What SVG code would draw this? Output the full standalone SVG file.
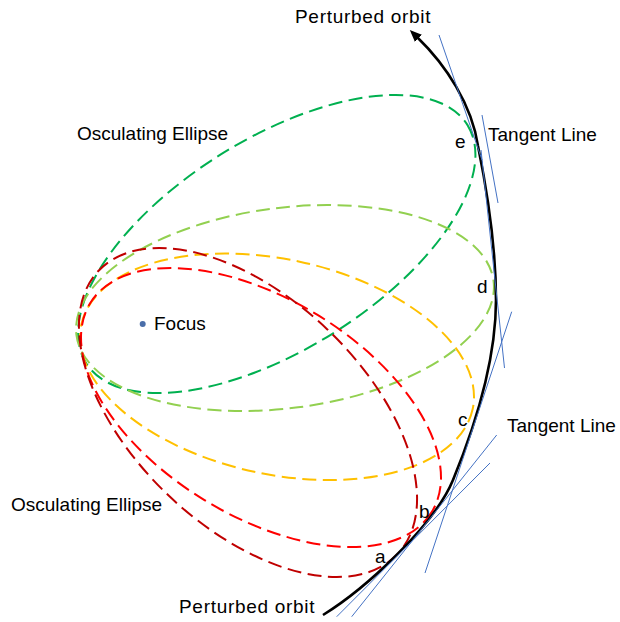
<svg xmlns="http://www.w3.org/2000/svg" width="620" height="622" viewBox="0 0 620 622">
<style>
text{font-family:"Liberation Sans",Arial,sans-serif;font-size:19px;fill:#000}
.osc{fill:none;stroke-width:2;stroke-dasharray:14 6.5}
.tan{stroke:#4472C4;stroke-width:1;fill:none}
.orbit{fill:none;stroke:#000;stroke-width:2.6}
</style>
<defs>
<marker id="arr" markerUnits="userSpaceOnUse" viewBox="0 0 12 10" refX="2" refY="5" markerWidth="12" markerHeight="10" orient="auto">
<path d="M0,0 L12,5 L0,10 z" fill="#000"/>
</marker>
</defs>
<rect width="620" height="622" fill="#fff"/>
<g id="ellipse-e"><ellipse class="osc" stroke="#00B050" cx="276.75" cy="244" rx="224.8" ry="105.6" transform="rotate(-32 276.75 244)"/></g>
<g id="ellipse-d"><ellipse class="osc" stroke="#92D050" cx="285" cy="308" rx="210.3" ry="100.2" transform="rotate(-7.4 285 308)"/></g>
<g id="ellipse-c"><ellipse class="osc" stroke="#FFC000" cx="277" cy="366.75" rx="200.2" ry="107.5" transform="rotate(12.2 277 366.75)"/></g>
<g id="ellipse-b"><ellipse class="osc" stroke="#FF0000" cx="261" cy="407.5" rx="200.2" ry="108.5" transform="rotate(31.4 261 407.5)"/></g>
<g id="ellipse-a"><ellipse class="osc" stroke="#C00000" cx="248" cy="412.5" rx="206" ry="114.9" transform="rotate(43.5 248 412.5)"/></g>
<g id="focus"><circle cx="142.7" cy="324" r="3" fill="#4A6EA9"/><text x="154" y="330">Focus</text></g>
<g id="connectors">
<path class="orbit" d="M323,615 C365,589 434,526 453,480 C475.8,424.5 496,360 496,300 C496,250 488,195 478,146 C472,105 446,65 417,37" marker-end="url(#arr)"/>
<line class="tan" x1="439" y1="35" x2="482" y2="160"/>
<line class="tan" x1="482" y1="115" x2="498" y2="203"/>
<line class="tan" x1="481" y1="150" x2="504.5" y2="368"/>
<line class="tan" x1="511.7" y1="311.7" x2="425" y2="573"/>
<line class="tan" x1="496.7" y1="435" x2="351.7" y2="616.7"/>
<line class="tan" x1="490" y1="463" x2="336.7" y2="616.7"/>
</g>
<g id="labels">
<text x="295" y="23" letter-spacing="0.7">Perturbed orbit</text>
<text x="179" y="613" letter-spacing="0.7">Perturbed orbit</text>
<text x="77" y="140">Osculating Ellipse</text>
<text x="11" y="511">Osculating Ellipse</text>
<text x="488" y="141">Tangent Line</text>
<text x="507" y="432">Tangent Line</text>
<text x="455" y="148">e</text>
<text x="477" y="293">d</text>
<text x="458" y="426">c</text>
<text x="419" y="518">b</text>
<text x="375" y="563">a</text>
</g>
</svg>
